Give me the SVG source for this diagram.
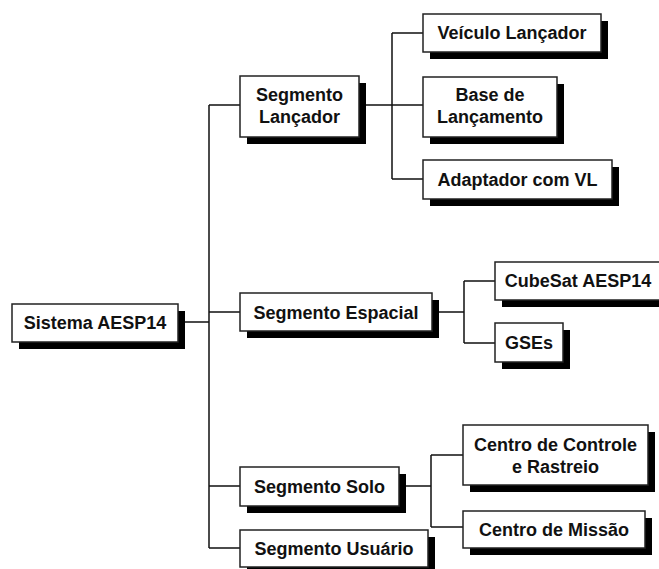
<svg xmlns="http://www.w3.org/2000/svg" width="659" height="569" viewBox="0 0 659 569">
<defs>
<style>
.box{fill:#ffffff;stroke:#222222;stroke-width:1.5}
.sh{fill:#000000}
.t{font-family:"Liberation Sans",Arial,sans-serif;font-weight:bold;font-size:18px;fill:#111111;text-anchor:middle}
.ln{fill:none;stroke:#111111;stroke-width:1.5}
</style>
</defs>
<rect width="659" height="569" fill="#ffffff"/>
<g id="connectors">
<path class="ln" d="M178,322 H209 M209,105 V548 M209,105 H240 M209,312 H240 M209,486 H240 M209,548 H240"/>
<path class="ln" d="M359,105 H423 M392,33 V179 M392,33 H423 M392,179 H423"/>
<path class="ln" d="M432,312 H464 M464,281 V343 M464,281 H495 M464,343 H495"/>
<path class="ln" d="M399,486 H431 M431,455 V527 M431,455 H463 M431,527 H463"/>
</g>
<g id="sistema">
<rect class="sh" x="19" y="311" width="166" height="38"/>
<rect class="box" x="12" y="304" width="166" height="38"/>
<text class="t" x="95" y="329">Sistema AESP14</text>
</g>
<g id="seg-lancador">
<rect class="sh" x="247" y="83" width="119" height="61"/>
<rect class="box" x="240" y="76" width="119" height="61"/>
<text class="t" x="299.5" y="101">Segmento</text>
<text class="t" x="299.5" y="123">Lançador</text>
</g>
<g id="veiculo">
<rect class="sh" x="430" y="21" width="178" height="38"/>
<rect class="box" x="423" y="14" width="178" height="38"/>
<text class="t" x="512" y="39">Veículo Lançador</text>
</g>
<g id="base">
<rect class="sh" x="430" y="84" width="134" height="60"/>
<rect class="box" x="423" y="77" width="134" height="60"/>
<text class="t" x="490" y="101">Base de</text>
<text class="t" x="490" y="123">Lançamento</text>
</g>
<g id="adaptador">
<rect class="sh" x="430" y="167" width="189" height="39"/>
<rect class="box" x="423" y="160" width="189" height="39"/>
<text class="t" x="517.5" y="186">Adaptador com VL</text>
</g>
<g id="seg-espacial">
<rect class="sh" x="247" y="300" width="192" height="38"/>
<rect class="box" x="240" y="293" width="192" height="38"/>
<text class="t" x="336" y="318.5">Segmento Espacial</text>
</g>
<g id="cubesat">
<rect class="sh" x="502" y="269" width="166" height="38"/>
<rect class="box" x="495" y="262" width="166" height="38"/>
<text class="t" x="578" y="287">CubeSat AESP14</text>
</g>
<g id="gses">
<rect class="sh" x="502" y="330" width="68" height="39"/>
<rect class="box" x="495" y="323" width="68" height="39"/>
<text class="t" x="529" y="349">GSEs</text>
</g>
<g id="seg-solo">
<rect class="sh" x="247" y="474" width="159" height="39"/>
<rect class="box" x="240" y="467" width="159" height="39"/>
<text class="t" x="319.5" y="493">Segmento Solo</text>
</g>
<g id="centro-controle">
<rect class="sh" x="470" y="432" width="185" height="60"/>
<rect class="box" x="463" y="425" width="185" height="60"/>
<text class="t" x="555.5" y="451">Centro de Controle</text>
<text class="t" x="555.5" y="473">e Rastreio</text>
</g>
<g id="centro-missao">
<rect class="sh" x="470" y="518" width="182" height="37"/>
<rect class="box" x="463" y="511" width="182" height="37"/>
<text class="t" x="554" y="535.5">Centro de Missão</text>
</g>
<g id="seg-usuario">
<rect class="sh" x="247" y="537" width="188" height="37"/>
<rect class="box" x="240" y="530" width="188" height="37"/>
<text class="t" x="334" y="555">Segmento Usuário</text>
</g>
</svg>
